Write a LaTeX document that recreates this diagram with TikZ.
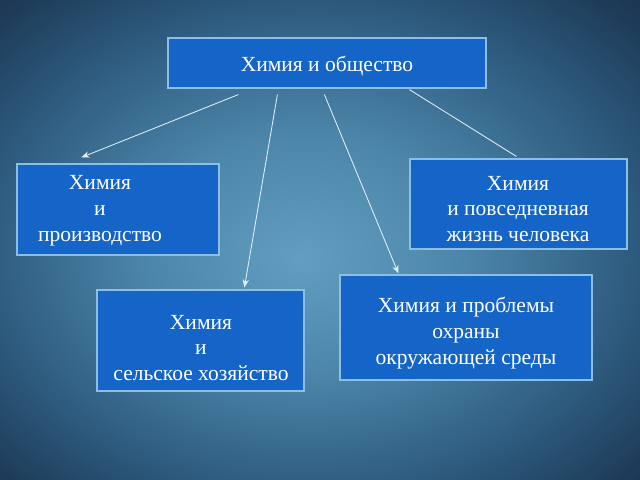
\documentclass[tikz,border=0pt]{standalone}
\usepackage{fontspec}
\setmainfont{Liberation Serif}
\usetikzlibrary{arrows.meta,calc}
\definecolor{boxfill}{RGB}{21,101,200}
\definecolor{boxline}{RGB}{140,190,230}
\definecolor{wire}{RGB}{225,240,248}
\pgfdeclareradialshading{bgshade}{\pgfpoint{-1.5bp}{-2bp}}{%
  rgb(0bp)=(0.38,0.62,0.75);
  rgb(12bp)=(0.30,0.53,0.67);
  rgb(25bp)=(0.18,0.36,0.50);
  rgb(35bp)=(0.11,0.22,0.33);
  rgb(50bp)=(0.08,0.17,0.25)}
\begin{document}
\begin{tikzpicture}[x=0.025cm,y=-0.025cm,
  box/.style={draw=boxline,fill=boxfill,line width=0.8pt,inner sep=0pt},
  txt/.style={text=white,align=center,font=\fontsize{15.3}{18.4}\selectfont},
  wire/.style={draw=wire,line width=0.6pt},
  arr/.style={wire,-{Stealth[length=2mm,width=1.6mm]}}]
\shade[shading=bgshade] (0,0) rectangle (640,480);
\useasboundingbox (0,0) rectangle (640,480);
\node [box,minimum width=7.95cm,minimum height=1.25cm] (soc) at (327,63) {};
\node [txt] (soct) at (327,66) {Химия и общество};
\node [box,minimum width=5.05cm,minimum height=2.275cm] (prod) at (118,209.5) {};
\node [txt] (prodt) at (100,211) {Химия\\и\\производство};
\node [box,minimum width=5.425cm,minimum height=2.25cm] (life) at (518.5,204) {};
\node [txt] (lifet) at (518,209) {Химия\\и повседневная\\жизнь человека};
\node [box,minimum width=5.175cm,minimum height=2.525cm] (agro) at (200.5,340.5) {};
\node [txt] (agrot) at (201,348) {Химия\\и\\сельское хозяйство};
\node [box,minimum width=6.3cm,minimum height=2.625cm] (eco) at (466,327.5) {};
\node [txt] (ecot) at (466,333) {Химия и проблемы\\охраны\\окружающей среды};
\draw [arr] ($(soc.south west)+(71,6)$) -- ($(prod.north west)+(65,-6)$);
\draw [arr] ($(soc.south west)+(110,6)$) -- ($(agro.north west)+(148,-2)$);
\draw [arr] ($(soc.south west)+(157,6)$) -- ($(eco.north west)+(59,-1)$);
\draw [wire] ($(soc.south west)+(242,1)$) -- ($(life.north west)+(107,-2)$);
\end{tikzpicture}
\end{document}
